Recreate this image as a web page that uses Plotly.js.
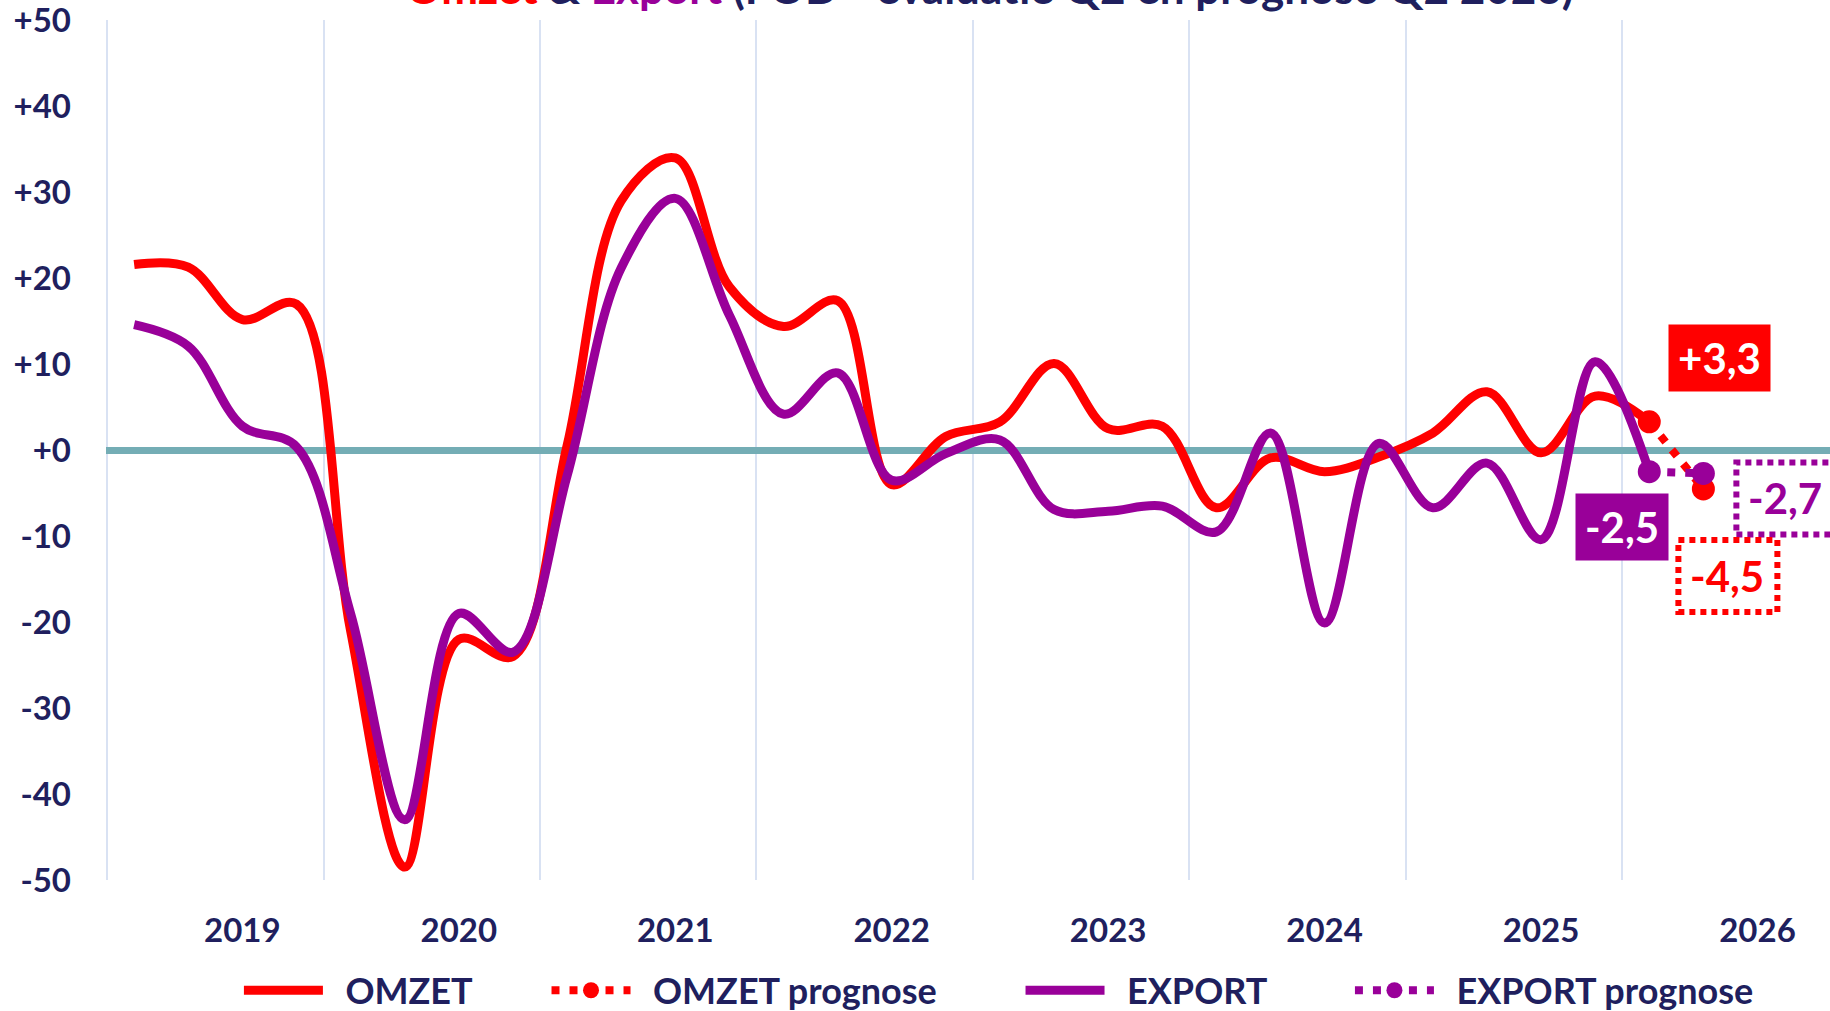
<!DOCTYPE html>
<html>
<head>
<meta charset="utf-8">
<script src="https://cdn.plot.ly/plotly-3.0.1.min.js"></script>
<style>
  html, body { margin: 0; padding: 0; background: #ffffff; }
  #chart { width: 1830px; height: 1011px; }
</style>
</head>
<body>
<div id="chart"></div>
<script>
// ---------- DATA ----------
const quarters = [
  '2018-Q3','2018-Q4',
  '2019-Q1','2019-Q2','2019-Q3','2019-Q4',
  '2020-Q1','2020-Q2','2020-Q3','2020-Q4',
  '2021-Q1','2021-Q2','2021-Q3','2021-Q4',
  '2022-Q1','2022-Q2','2022-Q3','2022-Q4',
  '2023-Q1','2023-Q2','2023-Q3','2023-Q4',
  '2024-Q1','2024-Q2','2024-Q3','2024-Q4',
  '2025-Q1','2025-Q2','2025-Q3'
];
const omzet = [21.6, 21.3, 15.2, 17.0, -21.0, -48.5, -22.0, -24.0, 0.5, 29.0, 34.0, 19.0, 14.4, 17.4, -4.0,
               1.6, 3.3, 10.1, 2.5, 2.8, -6.7, -0.9, -2.5, -0.8, 2.0, 6.8, -0.3, 6.3, 3.3];
const exportData = [14.6, 12.1, 2.8, 0.4, -19.0, -43.0, -19.0, -23.5, -3.0, 21.2, 29.3, 15.7, 4.2, 9.0, -3.5,
               -0.4, 1.2, -6.9, -7.1, -6.5, -9.5, 2.0, -20.1, 0.8, -6.7, -1.5, -10.4, 10.3, -2.5];
const prognoseQuarters = ['2025-Q3', '2025-Q4'];
const omzetPrognose = [3.3, -4.5];
const exportPrognose = [-2.5, -2.7];
const years = ['2019','2020','2021','2022','2023','2024','2025','2026'];
const yTickValues = [-50,-40,-30,-20,-10,0,10,20,30,40,50];
const yTickLabels = ['-50','-40','-30','-20','-10','+0','+10','+20','+30','+40','+50'];
const seriesNames = ['OMZET', 'OMZET prognose', 'EXPORT', 'EXPORT prognose'];

// ---------- HELPERS ----------
const NAVY = '#201F5E';
const RED = '#FF0000';
const PURPLE = '#990099';
const FONT = 'Lato, "Open Sans", sans-serif';

function qIndex(label) {
  const y0 = parseInt(quarters[0].slice(0, 4), 10);
  const q0 = parseInt(quarters[0].slice(6), 10);
  const y = parseInt(label.slice(0, 4), 10);
  const q = parseInt(label.slice(6), 10);
  return (y - y0) * 4 + (q - q0);
}
const xMain = quarters.map(qIndex);
const xProg = prognoseQuarters.map(qIndex);
const yearPos = years.map(y => qIndex(y + '-Q1'));
function fmt(v) {
  return (v >= 0 ? '+' : '') + v.toFixed(1).replace('.', ',');
}
// legend spacing (non-breaking spaces around the name)
const NB = '\u00A0';
function pad(name, lead, trail) { return NB.repeat(lead) + name + NB.repeat(trail); }

const traces = [
  {
    x: xMain, y: omzet, name: pad(seriesNames[0], 2, 8), type: 'scatter', mode: 'lines',
    line: { color: RED, width: 9, shape: 'spline', smoothing: 1 }
  },
  {
    x: xProg, y: omzetPrognose, name: pad(seriesNames[1], 2, 9), type: 'scatter', mode: 'lines+markers',
    line: { color: RED, width: 8, dash: '8px,10px' },
    marker: { color: RED, size: 23 }
  },
  {
    x: xMain, y: exportData, name: pad(seriesNames[2], 2, 9), type: 'scatter', mode: 'lines',
    line: { color: PURPLE, width: 9, shape: 'spline', smoothing: 1 }
  },
  {
    x: xProg, y: exportPrognose, name: pad(seriesNames[3], 2, 0), type: 'scatter', mode: 'lines+markers',
    line: { color: PURPLE, width: 8, dash: '8px,10px' },
    marker: { color: PURPLE, size: 23 }
  }
];

const last = xMain.length - 1;
const annotations = [
  {
    xref: 'paper', yref: 'paper', x: 0.5128, y: 1.006, xanchor: 'center', yanchor: 'bottom',
    showarrow: false,
    text: '<span style="color:' + RED + '">Omzet</span> & <span style="color:' + PURPLE + '">Export</span> (FOD - evaluatie Q2 en prognose Q2 2026)',
    font: { family: FONT, size: 44, color: NAVY, weight: 'bold' }
  },
  {
    x: xMain[last], y: omzet[last], xref: 'x', yref: 'y', showarrow: false,
    xshift: 70, yshift: 64, width: 101, height: 66, borderpad: 0,
    bgcolor: RED, text: fmt(omzet[last]),
    font: { family: FONT, size: 42, color: '#ffffff', weight: 'bold' }
  },
  {
    x: xMain[last], y: exportData[last], xref: 'x', yref: 'y', showarrow: false,
    xshift: -27, yshift: -55, width: 92, height: 66, borderpad: 0,
    bgcolor: PURPLE, text: fmt(exportData[last]),
    font: { family: FONT, size: 42, color: '#ffffff', weight: 'bold' }
  },
  {
    x: xProg[1], y: exportPrognose[1], xref: 'x', yref: 'y', showarrow: false,
    xshift: 82, yshift: -25,
    text: fmt(exportPrognose[1]),
    font: { family: FONT, size: 42, color: PURPLE, weight: 'bold' }
  },
  {
    x: xProg[1], y: omzetPrognose[1], xref: 'x', yref: 'y', showarrow: false,
    xshift: 24, yshift: -87,
    text: fmt(omzetPrognose[1]),
    font: { family: FONT, size: 42, color: RED, weight: 'bold' }
  }
];

const shapes = [
  {
    type: 'rect', layer: 'above', xref: 'x', yref: 'y',
    xsizemode: 'pixel', ysizemode: 'pixel',
    xanchor: xProg[1], yanchor: exportPrognose[1],
    x0: 33, x1: 131, y0: -61, y1: 11,
    line: { color: PURPLE, width: 6, dash: '6px,5px' }
  },
  {
    type: 'rect', layer: 'above', xref: 'x', yref: 'y',
    xsizemode: 'pixel', ysizemode: 'pixel',
    xanchor: xProg[1], yanchor: omzetPrognose[1],
    x0: -25, x1: 74, y0: -123, y1: -51,
    line: { color: RED, width: 6, dash: '6px,5px' }
  }
];

const layout = {
  width: 1830, height: 1011,
  margin: { l: 106, r: 0, t: 20, b: 131, autoexpand: false },
  paper_bgcolor: '#ffffff', plot_bgcolor: '#ffffff',
  font: { family: FONT, color: NAVY, weight: 'bold' },
  showlegend: true,
  legend: {
    orientation: 'h', x: 0.0771, xanchor: 'left', y: -0.1283, yanchor: 'middle',
    font: { family: FONT, size: 36, color: NAVY, weight: 'bold' },
    itemwidth: 79, bgcolor: 'rgba(0,0,0,0)'
  },
  xaxis: {
    range: [-0.52, 31.34],
    tickmode: 'array', tickvals: yearPos, ticktext: years,
    showgrid: false, zeroline: false, showline: false, ticks: '',
    tickfont: { family: FONT, size: 33, color: NAVY, weight: 'bold' },
    ticklabelstandoff: 28,
    minor: { tickmode: 'linear', tick0: -0.5, dtick: 4, showgrid: true, gridcolor: '#D9E2F3', gridwidth: 2, ticks: '' },
    fixedrange: true
  },
  yaxis: {
    range: [-50, 50.05],
    tickmode: 'array', tickvals: yTickValues, ticktext: yTickLabels,
    showgrid: false, showline: false, ticks: '',
    zeroline: true, zerolinecolor: '#74ADB5', zerolinewidth: 7,
    tickfont: { family: FONT, size: 33, color: NAVY, weight: 'bold' },
    ticklabelstandoff: 34,
    ticklabeloverflow: 'allow',
    fixedrange: true
  },
  annotations: annotations,
  shapes: shapes
};

Plotly.newPlot('chart', traces, layout, { staticPlot: true, displayModeBar: false });
</script>
</body>
</html>
